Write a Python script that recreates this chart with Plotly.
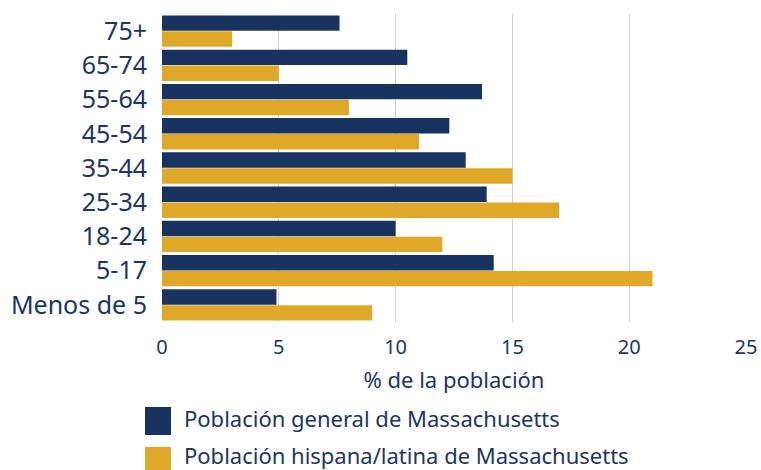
import plotly.graph_objects as go

categories = ["Menos de 5", "5-17", "18-24", "25-34", "35-44", "45-54", "55-64", "65-74", "75+"]
general = [4.9, 14.2, 10.0, 13.9, 13.0, 12.3, 13.7, 10.5, 7.6]
hispana = [9.0, 21.0, 12.0, 17.0, 15.0, 11.0, 8.0, 5.0, 3.0]
series_names = ["Población general de Massachusetts", "Población hispana/latina de Massachusetts"]
x_ticks = [0, 5, 10, 15, 20, 25]
x_title = "% de la población"

NAVY = "#183360"
GOLD = "#e0a828"
TEXT = "#1c3563"
FONT = "Noto Sans"

fig = go.Figure()
fig.add_trace(go.Bar(y=categories, x=hispana, orientation="h", name=series_names[1],
                     marker=dict(color=GOLD, line=dict(width=0)), showlegend=False))
fig.add_trace(go.Bar(y=categories, x=general, orientation="h", name=series_names[0],
                     marker=dict(color=NAVY, line=dict(width=0)), showlegend=False))

fig.update_layout(
    width=761, height=470,
    margin=dict(l=162, r=15, t=14, b=148),
    paper_bgcolor="white", plot_bgcolor="white",
    barmode="group", bargap=0.07, bargroupgap=0.03,
    font=dict(family=FONT, color=TEXT),
    xaxis=dict(range=[0, 25], tickvals=x_ticks, showgrid=True, gridcolor="#cdd2dc", gridwidth=1,
               zeroline=False, showline=False, tickfont=dict(size=20, color=TEXT),
               automargin=False, ticklabelstandoff=11,
               title=dict(text=x_title, font=dict(size=22, color=TEXT), standoff=13)),
    yaxis=dict(type="category", categoryorder="array", categoryarray=categories,
               showgrid=False, zeroline=False, showline=False, automargin=False,
               tickfont=dict(size=25, color=TEXT), ticklabelstandoff=14),
)

# custom legend (large square keys)
legend_items = [(series_names[0], NAVY, 421, 418), (series_names[1], GOLD, 461, 455)]
for name, color, yc, yt in legend_items:
    fig.add_shape(type="rect", xref="paper", yref="paper",
                  x0=(145 - 162) / 584, x1=(171 - 162) / 584,
                  y0=(322 - (yc + 14)) / 308, y1=(322 - (yc - 14)) / 308,
                  fillcolor=color, line=dict(width=0))
    fig.add_annotation(xref="paper", yref="paper", x=(182 - 162) / 584, y=(322 - yt) / 308,
                       text=name, showarrow=False, xanchor="left", yanchor="middle",
                       font=dict(size=22, color=TEXT, family=FONT))

fig.write_html("out.html", config={"displayModeBar": False},
               post_script="document.body.style.margin='0';document.body.style.overflow='hidden';")
